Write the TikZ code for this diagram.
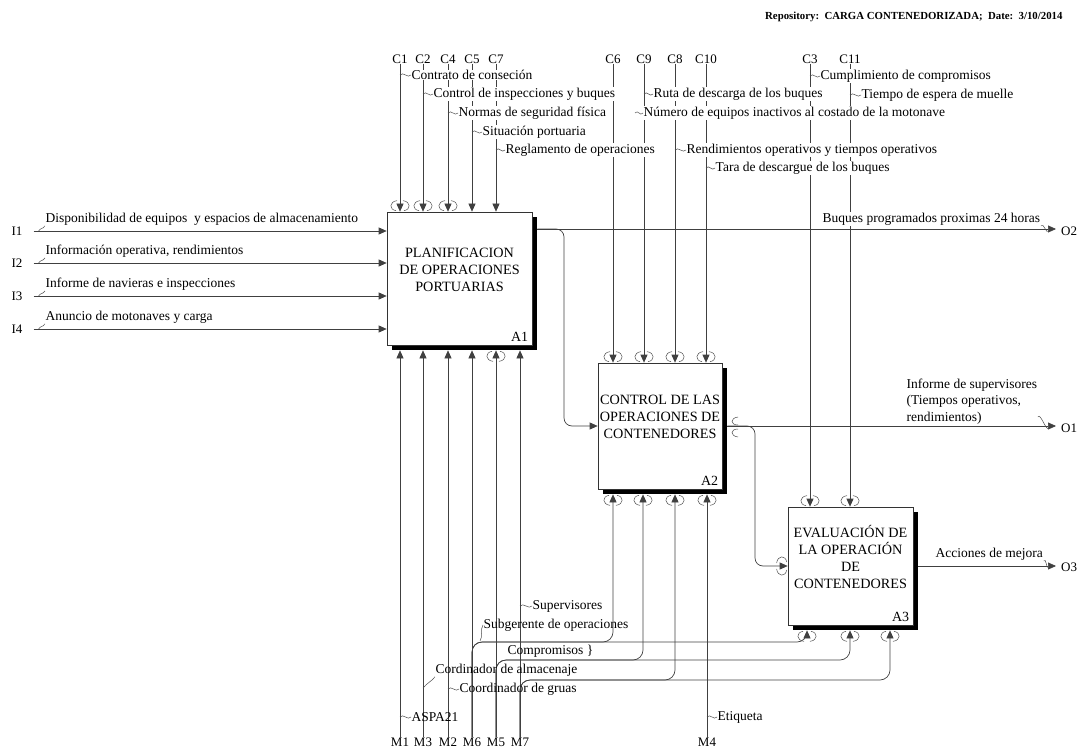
\documentclass[tikz,border=0pt]{standalone}
\usepackage{fontspec}
\setmainfont{Liberation Serif}
\usetikzlibrary{arrows.meta,shadows}

% little wavy lead from an arrow to the text that names it
\newcommand{\squig}[2]{\draw[leadline] #1 .. controls +(3,-4) and +(-3,4) .. #2;}

\begin{document}
\begin{tikzpicture}[
      x=1pt, y=-1pt,
      flow/.style={draw=black!75, line width=0.7pt},
      arr/.style={flow, -{Triangle[length=8pt,width=7pt]}},
      leadline/.style={draw=black!70, line width=0.5pt},
      fn/.style={draw=black!80, line width=0.7pt, fill=white, inner sep=0pt,
        drop shadow={fill=black, opacity=1, shadow xshift=5pt, shadow yshift=-5pt}},
      fnname/.style={font=\fontsize{14.2}{17}\selectfont, align=center, inner sep=0pt},
      fnnum/.style={font=\fontsize{14}{16}\selectfont, anchor=south east, inner sep=0pt},
      lbl/.style={font=\fontsize{13.5}{16.5}\selectfont, inner sep=0.5pt, anchor=west},
      clbl/.style={lbl, fill=white},
      tag/.style={font=\fontsize{13}{15}\selectfont, inner sep=0pt},
      % the ( ) marks of a tunnelled arrow end, drawn for an arrow pointing down
      tunnel/.pic={
        \draw[leadline] (-3,-11) .. controls (-11,-10) and (-11,-2) .. (-4,-1);
        \draw[leadline] (3,-11) .. controls (11,-10) and (11,-2) .. (4,-1);
      }
    ]

    \useasboundingbox (0,0) rectangle (1083,751);

    \node[anchor=east, font=\bfseries\fontsize{10.8}{13}\selectfont] (title) at (1066,17)
      {Repository:\ \ CARGA CONTENEDORIZADA;\ \ Date:\ \ 3/10/2014};

    % the three activity boxes, each with a black drop shadow
    \node[fn, minimum width=145pt, minimum height=133pt] (a1) at (459.5,278.5) {};
    \node[fn, minimum width=124pt, minimum height=126pt] (a2) at (660,426) {};
    \node[fn, minimum width=125pt, minimum height=118pt] (a3) at (850.5,566) {};

    \node[fnname] (a1name) at ([yshift=9pt]a1.center) {PLANIFICACION\\DE OPERACIONES\\PORTUARIAS};
    \node[fnname] (a2name) at ([yshift=9pt]a2.center) {CONTROL DE LAS\\OPERACIONES DE\\CONTENEDORES};
    \node[fnname] (a3name) at ([yshift=9pt]a3.center) {EVALUACIÓN DE\\LA OPERACIÓN\\DE\\CONTENEDORES};
    \node[fnnum] (a1num) at ([xshift=-4pt,yshift=4pt]a1.south east) {A1};
    \node[fnnum] (a2num) at ([xshift=-4pt,yshift=4pt]a2.south east) {A2};
    \node[fnnum] (a3num) at ([xshift=-4pt,yshift=4pt]a3.south east) {A3};

    % arrows leave from the outer edge of the shadow
    \coordinate (a1base) at ([yshift=-5pt]a1.south);
    \coordinate (a2base) at ([yshift=-5pt]a2.south);
    \coordinate (a3base) at ([yshift=-5pt]a3.south);
    \coordinate (a1out) at ([xshift=5pt,yshift=49.5pt]a1.east);
    \coordinate (a2out) at ([xshift=5pt]a2.east);
    \coordinate (a3out) at ([xshift=5pt]a3.east);

    % inputs
    \node[tag] (I1) at (17,231) {I1};
    \node[tag] (I2) at (17,263) {I2};
    \node[tag] (I3) at (17,296) {I3};
    \node[tag] (I4) at (17,329) {I4};
    \draw[arr] ([xshift=11pt]I1.east) -- (I1 -| a1.west);
    \draw[arr] ([xshift=11pt]I2.east) -- (I2 -| a1.west);
    \draw[arr] ([xshift=11pt]I3.east) -- (I3 -| a1.west);
    \draw[arr] ([xshift=11pt]I4.east) -- (I4 -| a1.west);
    \node[lbl] (in1) at (45,219) {Disponibilidad de equipos\ \ y espacios de almacenamiento};
    \node[lbl] (in2) at (45,251) {Información operativa, rendimientos};
    \node[lbl] (in3) at (45,284) {Informe de navieras e inspecciones};
    \node[lbl] (in4) at (45,317) {Anuncio de motonaves y carga};
    \squig{([xshift=16pt]I1.east)}{(in1.south west)}
    \squig{([xshift=16pt]I2.east)}{(in2.south west)}
    \squig{([xshift=16pt]I3.east)}{(in3.south west)}
    \squig{([xshift=16pt]I4.east)}{(in4.south west)}

    % controls
    \node[tag] (C1) at (400,59) {C1};
    \node[tag] (C2) at (423,59) {C2};
    \node[tag] (C4) at (448,59) {C4};
    \node[tag] (C5) at (472,59) {C5};
    \node[tag] (C7) at (496,59) {C7};
    \node[tag] (C6) at (613,59) {C6};
    \node[tag] (C9) at (644,59) {C9};
    \node[tag] (C8) at (675,59) {C8};
    \node[tag] (C10) at (706,59) {C10};
    \node[tag] (C3) at (810,59) {C3};
    \node[tag] (C11) at (850,59) {C11};

    \draw[arr] (C1.south) -- (C1.south |- a1.north);
    \draw[arr] (C2.south) -- (C2.south |- a1.north);
    \draw[arr] (C4.south) -- (C4.south |- a1.north);
    \draw[arr] (C5.south) -- (C5.south |- a1.north);
    \draw[arr] (C7.south) -- (C7.south |- a1.north);
    \draw[arr] (C6.south) -- (C6.south |- a2.north);
    \draw[arr] (C9.south) -- (C9.south |- a2.north);
    \draw[arr] (C8.south) -- (C8.south |- a2.north);
    \draw[arr] (C10.south) -- (C10.south |- a2.north);
    \draw[arr] (C3.south) -- (C3.south |- a3.north);
    \draw[arr] (C11.south) -- (C11.south |- a3.north);

    \pic at (C1.south |- a1.north) {tunnel};
    \pic at (C2.south |- a1.north) {tunnel};
    \pic at (C4.south |- a1.north) {tunnel};
    \pic at (C6.south |- a2.north) {tunnel};
    \pic at (C9.south |- a2.north) {tunnel};
    \pic at (C8.south |- a2.north) {tunnel};
    \pic at (C10.south |- a2.north) {tunnel};
    \pic at (C3.south |- a3.north) {tunnel};
    \pic at (C11.south |- a3.north) {tunnel};

    % outputs and the flows between the boxes
    \node[tag, anchor=west] (O2) at (1061,231) {O2};
    \node[tag, anchor=west] (O1) at (1061,428) {O1};
    \node[tag, anchor=west] (O3) at (1061,567) {O3};
    \coordinate (j1) at (564,0);
    \coordinate (j2) at (755,0);
    \draw[arr, shorten >=5pt] (a1out) -- (a1out -| O2.west);
    \draw[arr, rounded corners=8pt] (a1out) -| (j1 |- a2.west) -- (a2.west);
    \draw[arr, shorten >=5pt] (a2out) -- (a2out -| O1.west);
    \draw[arr, rounded corners=8pt] (a2out) -| (j2 |- a3.west) -- (a3.west);
    \draw[arr, shorten >=5pt] (a3out) -- (a3out -| O3.west);
    \pic[rotate=90] at (a3.west) {tunnel};
    \draw[leadline] (738,417) .. controls (730,418) and (730,425) .. (738,425);
    \draw[leadline] (738,429) .. controls (730,429) and (730,436) .. (738,437);

    % mechanisms
    \node[tag] (M1) at (400,742) {M1};
    \node[tag] (M3) at (423,742) {M3};
    \node[tag] (M2) at (448,742) {M2};
    \node[tag] (M6) at (472,742) {M6};
    \node[tag] (M5) at (496,742) {M5};
    \node[tag] (M7) at (520,742) {M7};
    \node[tag] (M4) at (707,742) {M4};

    \draw[arr] (M1.north) -- (M1.north |- a1base);
    \draw[arr] (M3.north) -- (M3.north |- a1base);
    \draw[arr] (M2.north) -- (M2.north |- a1base);
    \draw[arr] (M6.north) -- (M6.north |- a1base);
    \draw[arr] (M5.north) -- (M5.north |- a1base);
    \draw[arr] (M7.north) -- (M7.north |- a1base);
    \draw[arr] (M4.north) -- (M4.north |- a2base);
    % M6, M5 and M7 also branch off to A2 and A3
    \draw[arr, rounded corners=10pt] (M6.north) |- (613,642) -- (613,0 |- a2base);
    \draw[arr, rounded corners=10pt] (M6.north) |- (807,642) -- (807,0 |- a3base);
    \draw[arr, rounded corners=10pt] (M5.north) |- (643,660) -- (643,0 |- a2base);
    \draw[arr, rounded corners=10pt] (M5.north) |- (850,660) -- (850,0 |- a3base);
    \draw[arr, rounded corners=10pt] (M7.north) |- (675,680) -- (675,0 |- a2base);
    \draw[arr, rounded corners=10pt] (M7.north) |- (890,680) -- (890,0 |- a3base);

    \pic[rotate=180] at (M5.north |- a1base) {tunnel};
    \pic[rotate=180] at (613,0 |- a2base) {tunnel};
    \pic[rotate=180] at (643,0 |- a2base) {tunnel};
    \pic[rotate=180] at (675,0 |- a2base) {tunnel};
    \pic[rotate=180] at (M4.north |- a2base) {tunnel};
    \pic[rotate=180] at (807,0 |- a3base) {tunnel};
    \pic[rotate=180] at (850,0 |- a3base) {tunnel};
    \pic[rotate=180] at (890,0 |- a3base) {tunnel};

    % arrow labels, the leads go in first so the text sits on top
    \node[clbl] (lC1) at (411,75) {Contrato de conseción};
    \node[clbl] (lC2) at (433,94) {Control de inspecciones y buques};
    \node[clbl] (lC4) at (458,113) {Normas de seguridad física};
    \node[clbl] (lC5) at (482,132) {Situación portuaria};
    \node[clbl] (lC7) at (505,150) {Reglamento de operaciones};
    \node[clbl] (lC9) at (653,94) {Ruta de descarga de los buques};
    \node[clbl] (lC6) at (643,113) {Número de equipos inactivos al costado de la motonave};
    \node[clbl] (lC8) at (686,150) {Rendimientos operativos y tiempos operativos};
    \node[clbl] (lC10) at (715,168) {Tara de descargue de los buques};
    \node[clbl] (lC3) at (820,76) {Cumplimiento de compromisos};
    \node[clbl] (lC11) at (861,95) {Tiempo de espera de muelle};
    \squig{(C1.south |- lC1.west)}{(lC1.west)}
    \squig{(C2.south |- lC2.west)}{(lC2.west)}
    \squig{(C4.south |- lC4.west)}{(lC4.west)}
    \squig{(C5.south |- lC5.west)}{(lC5.west)}
    \squig{(C7.south |- lC7.west)}{(lC7.west)}
    \squig{(C9.south |- lC9.west)}{(lC9.west)}
    \squig{([xshift=-8pt]lC6.west)}{(lC6.west)}
    \squig{(C8.south |- lC8.west)}{(lC8.west)}
    \squig{(C10.south |- lC10.west)}{(lC10.west)}
    \squig{(C3.south |- lC3.west)}{(lC3.west)}
    \squig{(C11.south |- lC11.west)}{(lC11.west)}

    \node[clbl] (lO2) at (822,219) {Buques programados proximas 24 horas};
    \node[lbl, align=left, anchor=north west] (lO1) at (906,378)
      {Informe de supervisores\\(Tiempos operativos,\\rendimientos)};
    \node[lbl] (lO3) at (935,554) {Acciones de mejora};
    \squig{(lO2.south east)}{([xshift=-12pt]O2.west)}
    \squig{([yshift=8pt]lO1.south east)}{([xshift=-12pt]O1.west)}
    \squig{(lO3.south east)}{([xshift=-12pt]O3.west)}

    \node[lbl] (lM7) at (532,606) {Supervisores};
    \node[lbl] (lM6) at (483,625) {Subgerente de operaciones};
    \node[lbl] (lM5) at (507,651) {Compromisos \}};
    \node[lbl] (lM3) at (435,670) {Cordinador de almacenaje};
    \node[lbl] (lM2) at (459,689) {Coordinador de gruas};
    \node[lbl] (lM1) at (411,717) {ASPA21};
    \node[lbl] (lM4) at (717,717) {Etiqueta};
    \squig{(M7.north |- lM7.west)}{(lM7.west)}
    \squig{(480,641)}{(lM6.west)}
    \squig{(M3.north |- 0,688)}{(lM3.south west)}
    \squig{(M2.north |- lM2.west)}{(lM2.west)}
    \squig{(M1.north |- lM1.west)}{(lM1.west)}
    \squig{(M4.north |- lM4.west)}{(lM4.west)}
\end{tikzpicture}
\end{document}
